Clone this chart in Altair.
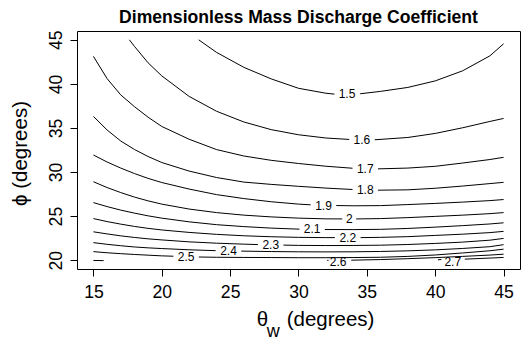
import altair as alt
import pandas as pd

# ---- contour lines (theta_w in degrees, phi in degrees); each level: list of (x list, y list) pieces
lvl_1_5 = [
    ([22.7, 24, 26, 28, 30, 32, 32.63], [45, 43.58, 41.88, 40.57, 39.5, 38.94, 38.84]),
    ([34.51, 36, 38, 40, 42, 44, 45], [38.88, 39.15, 39.6, 40.34, 41.48, 43.18, 44.55]),
]
lvl_1_6 = [
    ([17.63, 18, 19, 20, 22, 24, 26, 28, 30, 32, 33.71],
     [45, 44.26, 42.39, 40.91, 38.58, 36.9, 35.68, 34.81, 34.23, 33.86, 33.7]),
    ([35.58, 38, 40, 42, 44, 45], [33.66, 33.92, 34.38, 35.02, 35.74, 36.08]),
]
lvl_1_7 = [
    ([15, 16, 17, 18, 19, 20, 22, 24, 26, 28, 30, 32, 33.95],
     [43.12, 40.6, 38.75, 37.42, 36.22, 35.17, 33.72, 32.55, 31.82, 31.33, 30.97, 30.66, 30.43]),
    ([35.81, 38, 40, 42, 44, 45], [30.36, 30.45, 30.65, 31.02, 31.42, 31.67]),
]
lvl_1_8 = [
    ([15, 16, 17, 18, 19, 20, 22, 24, 26, 28, 30, 32, 33.95],
     [36.31, 34.77, 33.52, 32.56, 31.76, 31.08, 30.11, 29.38, 28.86, 28.6, 28.38, 28.18, 28.02]),
    ([35.81, 38, 40, 42, 44, 45], [27.94, 27.98, 28.16, 28.41, 28.69, 28.83]),
]
lvl_1_9 = [
    ([15, 16, 17, 18, 19, 20, 22, 24, 26, 28, 30, 30.89],
     [31.93, 31.14, 30.45, 29.83, 29.28, 28.81, 28.07, 27.44, 26.99, 26.63, 26.36, 26.28]),
    ([32.76, 34, 36, 38, 40, 42, 44, 45], [26.2, 26.17, 26.19, 26.31, 26.44, 26.59, 26.76, 26.88]),
]
lvl_2_0 = [
    ([15, 16, 17, 18, 19, 20, 22, 24, 26, 28, 30, 32, 33.2],
     [28.9, 28.24, 27.67, 27.16, 26.73, 26.36, 25.8, 25.4, 25.11, 24.91, 24.77, 24.69, 24.68]),
    ([34.22, 36, 38, 40, 42, 44, 45], [24.68, 24.72, 24.83, 24.97, 25.11, 25.28, 25.4]),
]
lvl_2_1 = [
    ([15, 16, 17, 18, 19, 20, 22, 24, 26, 28, 30.07],
     [26.53, 26.08, 25.68, 25.34, 25.03, 24.77, 24.35, 24.03, 23.81, 23.64, 23.52]),
    ([31.93, 34, 36, 38, 40, 42, 44, 45], [23.48, 23.47, 23.5, 23.6, 23.75, 23.92, 24.11, 24.24]),
]
lvl_2_2 = [
    ([15, 16, 17, 18, 19, 20, 22, 24, 26, 28, 30, 32, 32.66],
     [24.72, 24.38, 24.09, 23.83, 23.61, 23.43, 23.15, 22.93, 22.77, 22.66, 22.59, 22.56, 22.56]),
    ([34.54, 36, 38, 40, 42, 44, 45], [22.56, 22.59, 22.67, 22.81, 22.95, 23.13, 23.27]),
]
lvl_2_3 = [
    ([15, 16, 17, 18, 19, 20, 22, 24, 26, 27.03],
     [23.22, 22.98, 22.76, 22.58, 22.42, 22.3, 22.08, 21.93, 21.82, 21.77]),
    ([28.9, 30, 32, 34, 36, 38, 40, 42, 44, 45],
     [21.71, 21.68, 21.66, 21.67, 21.7, 21.78, 21.9, 22.05, 22.27, 22.47]),
]
lvl_2_4 = [
    ([15, 16, 17, 18, 19, 20, 22, 23.94], [21.99, 21.8, 21.64, 21.5, 21.4, 21.32, 21.18, 21.08]),
    ([25.81, 28, 30, 32, 34, 36, 38, 40, 42, 44, 45],
     [21.03, 20.98, 20.95, 20.94, 20.95, 20.99, 21.06, 21.17, 21.33, 21.53, 21.76]),
]
lvl_2_5 = [
    ([15, 16, 17, 18, 19, 20, 20.85], [20.97, 20.84, 20.74, 20.65, 20.57, 20.49, 20.45]),
    ([22.71, 24, 26, 28, 30, 32, 34, 36, 38, 40, 42, 44, 45],
     [20.36, 20.33, 20.31, 20.3, 20.28, 20.28, 20.3, 20.33, 20.43, 20.59, 20.82, 21.07, 21.25]),
]
lvl_2_6 = [
    ([15, 15.75], [19.97, 19.95]),
    ([32.1, 32.2], [19.98, 19.99]),
    ([33.86, 36, 38, 40, 42, 44, 45], [20.0, 20.07, 20.17, 20.29, 20.43, 20.58, 20.68]),
]
lvl_2_7 = [
    ([40.2, 40.45], [20.05, 20.07]),
    ([42.16, 44, 45], [20.12, 20.24, 20.31]),
]

levels = [lvl_1_5, lvl_1_6, lvl_1_7, lvl_1_8, lvl_1_9, lvl_2_0, lvl_2_1,
          lvl_2_2, lvl_2_3, lvl_2_4, lvl_2_5, lvl_2_6, lvl_2_7]

# ---- contour labels
label_text = ["1.5", "1.6", "1.7", "1.8", "1.9", "2", "2.1", "2.2", "2.3", "2.4", "2.5", "2.6", "2.7"]
label_x = [33.55, 34.64, 34.88, 34.88, 31.83, 33.71, 31.0, 33.6, 27.97, 24.88, 21.78, 32.9, 41.28]
label_y = [38.8, 33.64, 30.33, 27.97, 26.2, 24.68, 23.49, 22.56, 21.72, 21.04, 20.38, 19.78, 19.74]

x_ticks = [15, 20, 25, 30, 35, 40, 45]
y_ticks = [20, 25, 30, 35, 40, 45]

rows = []
seg = 0
for lvl in levels:
    for xs, ys in lvl:
        for i, (xv, yv) in enumerate(zip(xs, ys)):
            rows.append({"x": xv, "y": yv, "seg": seg, "i": i})
        seg += 1
lines_df = pd.DataFrame(rows)
labels_df = pd.DataFrame({"x": label_x, "y": label_y, "t": label_text})

FONT = "Liberation Sans"

xenc = alt.X("x:Q", scale=alt.Scale(domain=[13.8, 46.2], nice=False, zero=False),
             axis=alt.Axis(values=x_ticks, title=None, grid=False, domain=False,
                           tickSize=7, tickColor="black", tickWidth=1,
                           labelFont=FONT, labelFontSize=17.6, labelColor="black",
                           labelBaseline="alphabetic", labelPadding=21.3,
                           labelFlush=False, labelOverlap=False))
yenc = alt.Y("y:Q", scale=alt.Scale(domain=[19, 46], nice=False, zero=False),
             axis=alt.Axis(values=y_ticks, title=None, grid=False, domain=False,
                           tickSize=7, tickColor="black", tickWidth=1,
                           labelFont=FONT, labelFontSize=17.6, labelColor="black",
                           labelAngle=270, labelAlign="center", labelBaseline="alphabetic",
                           labelPadding=8.3, labelFlush=False, labelOverlap=False))

lines = alt.Chart(lines_df).mark_line(color="black", strokeWidth=1).encode(
    x=xenc, y=yenc, detail="seg:N", order="i:Q")

labels = alt.Chart(labels_df).mark_text(font=FONT, fontSize=12, color="black",
                                        align="center", baseline="middle").encode(
    x="x:Q", y="y:Q", text="t:N")

one = pd.DataFrame({"k": [0]})
title = alt.Chart(one).mark_text(text="Dimensionless Mass Discharge Coefficient", font=FONT,
                                 fontSize=17.6, fontWeight="bold", color="black",
                                 align="center", baseline="alphabetic").encode(
    x=alt.value(221.5), y=alt.value(-8.5))
xt1 = alt.Chart(one).mark_text(text="θ", font=FONT, fontSize=20.5, color="black",
                               align="left", baseline="alphabetic").encode(
    x=alt.value(179.7), y=alt.value(294.7))
xt2 = alt.Chart(one).mark_text(text="w", font=FONT, fontSize=18, color="black",
                               align="left", baseline="alphabetic").encode(
    x=alt.value(189.7), y=alt.value(305.7))
xt3 = alt.Chart(one).mark_text(text="(degrees)", font=FONT, fontSize=20.5, color="black",
                               align="left", baseline="alphabetic").encode(
    x=alt.value(209.7), y=alt.value(294.7))
yt = alt.Chart(one).mark_text(text="ϕ (degrees)", font=FONT, fontSize=20.5, color="black",
                              align="center", baseline="alphabetic", angle=270).encode(
    x=alt.value(-49.6), y=alt.value(122.5))

chart = alt.layer(lines, labels, title, xt1, xt2, xt3, yt).properties(
    width=443, height=238,
    padding={"left": 77, "top": 31, "right": 1, "bottom": 73},
    autosize="none",
    background="white",
).configure_view(stroke="black", strokeWidth=1)

chart.save("out.html", embed_options={"renderer": "svg", "actions": False})
